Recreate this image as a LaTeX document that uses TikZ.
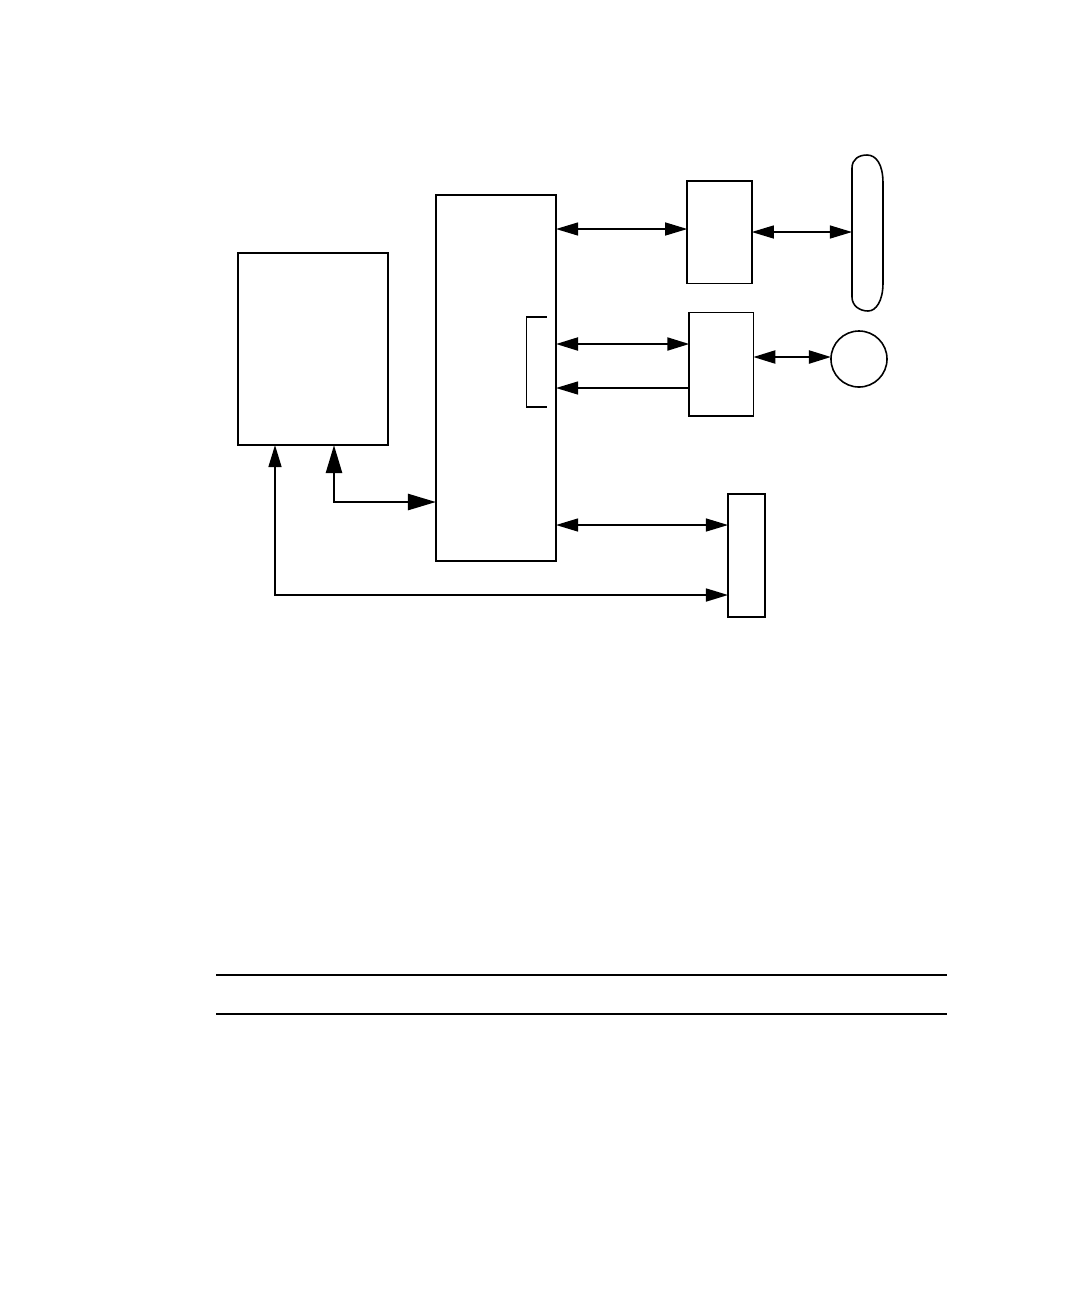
\documentclass[tikz,border=0pt]{standalone}
\usepackage{tikz}
\usetikzlibrary{arrows.meta, positioning}
\tikzset{
	box/.style={draw, line width=0.45pt, inner sep=0pt, outer sep=0pt},
	link/.style={line width=0.35pt, {Triangle[length=0.22cm, width=0.13cm]}-{Triangle[length=0.22cm, width=0.13cm]}},
	heavylink/.style={line width=0.6pt, {Triangle[length=0.22cm, width=0.13cm]}-{Triangle[length=0.22cm, width=0.13cm]}},
	onelink/.style={line width=0.35pt, -{Triangle[length=0.22cm, width=0.13cm]}},
	buslink/.style={line width=0.7pt, {Triangle[length=0.28cm, width=0.16cm]}-{Triangle[length=0.28cm, width=0.16cm]}},
	rule/.style={line width=0.6pt}
}
\begin{document}
\begin{tikzpicture}[x=0.01cm, y=-0.01cm]
		\useasboundingbox (0, 0) rectangle (1080, 1296);
		\node[box, minimum width=1.5cm, minimum height=1.92cm] (mem) at (313, 349) {};
		\node[box, line width=0.6pt, minimum width=1.2cm, minimum height=3.66cm] (bus) at (496, 378) {};
		\node[box, minimum width=0.645cm, minimum height=1.025cm] (ctl) at (719.5, 232) {};
		\node[box, minimum width=0.64cm, minimum height=1.037cm] (kbd) at (721.3, 364.2) {};
		\node[box, minimum width=0.37cm, minimum height=1.23cm] (io) at (746.5, 555.5) {};
		\node[box, circle, minimum size=0.56cm] (mouse) at (859, 359) {};
		\node[inner sep=0pt, outer sep=0pt, minimum width=0.31cm, minimum height=1.56cm] (disk) at (867.5, 233) {};
		\draw[line width=0.45pt] (852, 297) -- (852, 168)
			.. controls (852, 159) and (859, 155) .. (867, 155)
			.. controls (876, 155) and (883, 164) .. (883, 183) -- (883, 283)
			.. controls (883, 301) and (876, 311) .. (868, 311)
			.. controls (860, 311) and (852, 306) .. (852, 297) -- cycle;
		\draw[line width=0.45pt] (546.7, 316.7) -- (526.7, 316.7) -- (526.7, 407) -- (546.7, 407);
		\draw[link] (bus.east |- 0, 229) -- (ctl.west |- 0, 229);
		\draw[link] (ctl.east |- 0, 232) -- (disk.west |- 0, 232);
		\draw[heavylink] (bus.east |- 0, 344) -- (kbd.west |- 0, 344);
		\draw[onelink] (kbd.west |- 0, 388) -- (bus.east |- 0, 388);
		\draw[heavylink] (kbd.east |- 0, 357) -- (mouse.west |- 0, 357);
		\draw[link] (bus.east |- 0, 525) -- (io.west |- 0, 525);
		\draw[buslink] (mem.south -| 334, 0) |- (bus.west |- 0, 502);
		\draw[link, line width=0.45pt] (mem.south -| 275, 0) |- (io.west |- 0, 595);
		\draw[rule] (216, 975) -- (947, 975);
		\draw[rule] (216, 1014) -- (947, 1014);
	\end{tikzpicture}
\end{document}
